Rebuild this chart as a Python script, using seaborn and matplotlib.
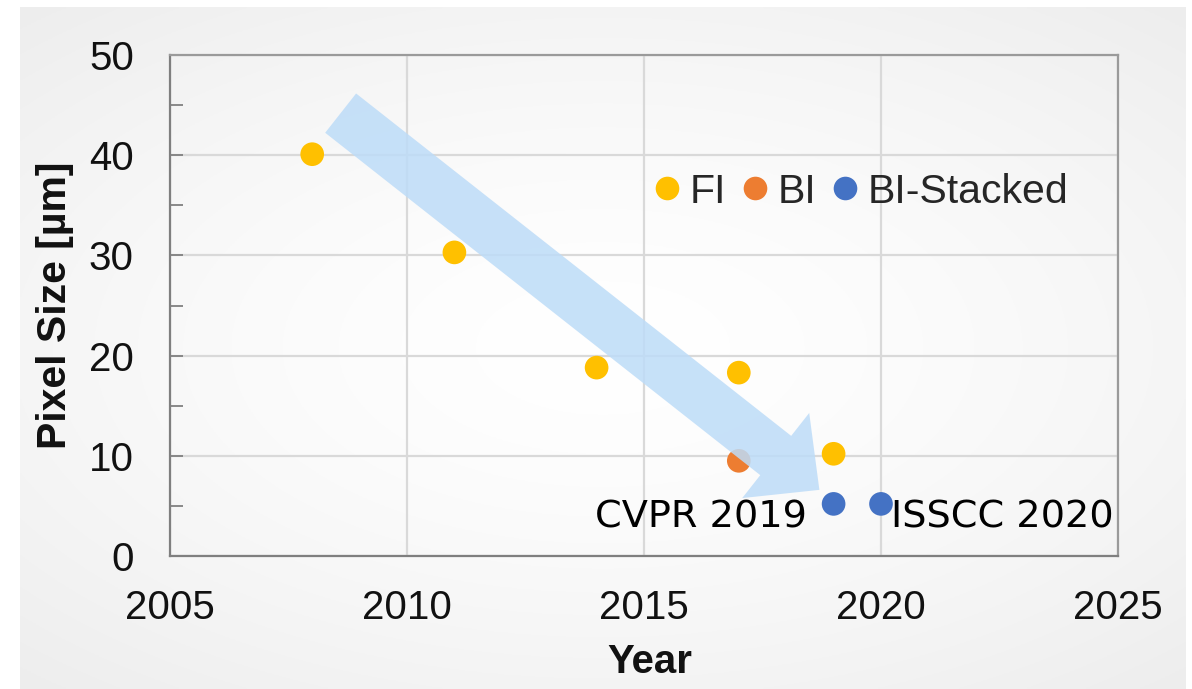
import numpy as np
import pandas as pd
import matplotlib
matplotlib.use("Agg")
import matplotlib.pyplot as plt
from matplotlib.patches import FancyArrowPatch
import seaborn as sns

# Pixel size of event-camera sensors over the years
years = [2008, 2011, 2014, 2017, 2019, 2017, 2019, 2020]
pixel_size = [40.1, 30.3, 18.8, 18.3, 10.2, 9.5, 5.2, 5.2]
process = ["FI", "FI", "FI", "FI", "FI", "BI", "BI-Stacked", "BI-Stacked"]
process_order = ["FI", "BI", "BI-Stacked"]
process_colors = ["#FFC000", "#ED7D31", "#4472C4"]

x_ticks = [2005, 2010, 2015, 2020, 2025]
y_ticks = [0, 10, 20, 30, 40, 50]

# Labelled sensors: (year, pixel size, text, side)
callouts = [(2019, 5.2, "CVPR 2019", "left"), (2020, 5.2, "ISSCC 2020", "right")]

df = pd.DataFrame({"Year": years, "Pixel": pixel_size, "Process": process})

sns.set_theme(style="white")
plt.rcParams["font.family"] = ["Liberation Sans", "DejaVu Sans"]

fig = plt.figure(figsize=(11.92, 6.89), dpi=100, facecolor="white")

# soft radial shading behind the chart
bg = fig.add_axes([20 / 1192, 0, 1 - 26 / 1192, 1 - 7 / 689], zorder=-10)
gy, gx = np.mgrid[-1:1:300j, -1:1:500j]
r = np.sqrt((gx * 0.9) ** 2 + (gy * 1.0) ** 2)
shade = 1.0 - 0.045 * np.clip(r, 0, 1.3) ** 1.5
bg.imshow(np.dstack([shade, shade, shade]), aspect="auto", extent=[0, 1, 0, 1])
bg.set_axis_off()

ax = fig.add_axes([170 / 1192, 133 / 689, 948 / 1192, 501 / 689])
ax.set_facecolor("none")

sns.scatterplot(data=df, x="Year", y="Pixel", hue="Process", hue_order=process_order,
                palette=process_colors, s=290, linewidth=0, ax=ax, zorder=3, legend=True)

ax.set_xlim(x_ticks[0], x_ticks[-1])
ax.set_ylim(y_ticks[0], y_ticks[-1])
ax.set_xticks(x_ticks)
ax.set_yticks(y_ticks)
ax.set_yticks([5, 15, 25, 35, 45], minor=True)
ax.grid(True, which="major", color="#D9D9D9", linewidth=1.6, zorder=0)
ax.tick_params(axis="y", which="both", direction="in", length=9, width=1.3,
               color="#808080", left=True, labelsize=29, pad=26)
ax.tick_params(axis="x", which="both", length=0, labelsize=29, pad=24)
for lab in ax.get_xticklabels() + ax.get_yticklabels():
    lab.set_color("#111111")
for side in ["left", "bottom"]:
    ax.spines[side].set_color("#7F7F7F")
    ax.spines[side].set_linewidth(1.6)
for side in ["top", "right"]:
    ax.spines[side].set_color("#9A9A9A")
    ax.spines[side].set_linewidth(1.6)

ax.set_xlabel("Year", fontsize=29, fontweight="bold", color="#111111")
ax.set_ylabel("Pixel Size [µm]", fontsize=29.5, fontweight="bold", color="#111111")
ax.xaxis.set_label_coords(0.506, -0.212)
ax.xaxis.label.set_va("center")
ax.yaxis.set_label_coords(-0.121, 0.5)
ax.yaxis.label.set_va("center")

# trend arrow
arrow = FancyArrowPatch((2008.6, 44.2), (2018.7, 6.6),
                        arrowstyle="simple,head_width=78,head_length=40,tail_width=36",
                        mutation_scale=1, shrinkA=0, shrinkB=0,
                        color="#BDDCF8", alpha=0.85, linewidth=0, zorder=4)
ax.add_patch(arrow)

# sensor callouts
for cx, cy, text, side in callouts:
    dx = -19 if side == "left" else 7
    ax.annotate(text, (cx, cy), xytext=(dx, -10), textcoords="offset points",
                ha="right" if side == "left" else "left", va="center",
                fontsize=27.5, family="DejaVu Sans", color="black", zorder=5)

handles, labels = ax.get_legend_handles_labels()
for h in handles:
    h.set_markersize(17)
ax.legend(handles, labels, ncol=3, frameon=False, loc="center",
          bbox_to_anchor=(0.724, 0.727), fontsize=29.5, handletextpad=0.0,
          columnspacing=0.15, borderaxespad=0, handlelength=1.1)

fig.savefig("out.png", dpi=100)
